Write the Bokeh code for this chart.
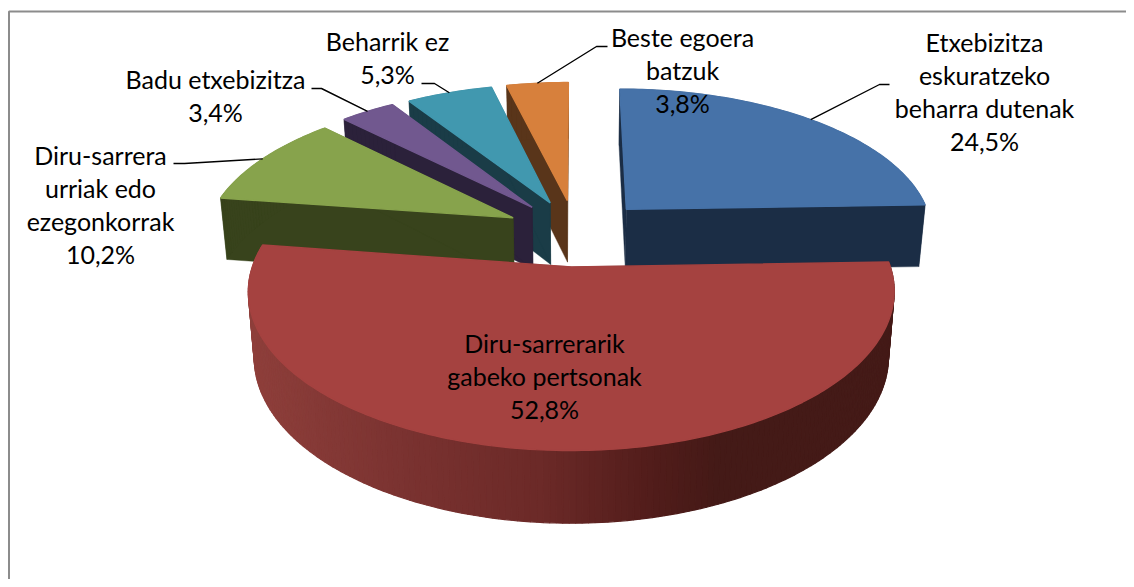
import math
import numpy as np
from bokeh.plotting import figure
from bokeh.models import Range1d, ColumnDataSource
from bokeh.core.properties import value
from bokeh.embed import file_html
from bokeh.resources import INLINE

# ---- data ----
names = ["Etxebizitza|eskuratzeko|beharra dutenak", "Diru-sarrerarik|gabeko pertsonak",
         "Diru-sarrera|urriak edo|ezegonkorrak", "Badu etxebizitza", "Beharrik ez", "Beste egoera|batzuk"]
values = [24.5, 52.8, 10.2, 3.4, 5.3, 3.8]
top_colors = ["#4672a8", "#a54240", "#87a34c", "#71588f", "#4198af", "#d7803c"]
side_colors = ["#1b2d45", "#451a18", "#38431c", "#2b213a", "#1a3c47", "#59351a"]
label_x = [984, 544, 100, 215, 387, 682]
label_y = [41.5, 342, 154, 78, 40, 36]
leaders = [[(879, 84), (889, 84)], None, [(184, 163), (173, 163)], [(321, 88), (311, 88)],
           [(434, 83), (421, 83)], [(596, 46), (607, 46)]]
slice_nudge = [0.009, 0, 0, 0, 0.006, 0]
grad_x = [255, 400, 540, 650, 720, 890]
grad_rgb = [(0x8e, 0x3f, 0x3b), (0x7b, 0x33, 0x31), (0x6c, 0x2a, 0x28), (0x52, 0x1d, 0x1b), (0x44, 0x1a, 0x17), (0x44, 0x1a, 0x17)]

# ---- projection ----
CX, CY, A, B, P, EXPL, H, SHRINK = 575, 232, 308, 144.6, 0.15, 0.23, 63, 0.982
FONT, FS, LINE = "Lato", "25px", 33


def top(X, Y):
    d = 1 + P * Y
    return CX + A * X / d, CY - B * Y / d


def bottom(X, Y):
    sx, sy = top(X, Y)
    return CX + (sx - CX) * SHRINK, sy + H / (1 + P * Y) ** 0.7


def shape(a0, a1, nudge):
    mid = math.radians((a0 + a1) / 2)
    ox, oy = EXPL * math.sin(mid) + nudge, EXPL * math.cos(mid)
    angs = np.radians(np.linspace(a0, a1, max(3, int(a1 - a0) + 1)))
    pts = [(ox, oy)] + [(ox + math.sin(t), oy + math.cos(t)) for t in angs]
    return pts, (ox + math.sin(mid), oy + math.cos(mid))


p = figure(width=1126, height=579, x_range=Range1d(0, 1126), y_range=Range1d(579, 0),
           output_backend="svg", toolbar_location=None, min_border=0,
           outline_line_color=None, background_fill_color="white")
p.axis.visible = False
p.grid.visible = False
p.min_border_left = p.min_border_right = p.min_border_top = p.min_border_bottom = 0

# frame (left and top only reach the picture)
p.line([8.5, 8.5, 1134], [587, 11, 11], line_color="#8c8c8c", line_width=2)

# slices
starts = np.cumsum([0] + values[:-1]) * 3.6
ends = np.cumsum(values) * 3.6
anchors = []
geo = [shape(a, b, nudge) for a, b, nudge in zip(starts, ends, slice_nudge)]
order = [5, 4, 3, 2, 0, 1]
for i in order:
    pts, anchor = geo[i]
    anchors.append((i, top(*anchor)))
    T = [top(*q) for q in pts]
    Bt = [bottom(*q) for q in pts]
    n = len(pts)
    for j in range(n):
        k = (j + 1) % n
        xs = [T[j][0], T[k][0], Bt[k][0], Bt[j][0]]
        ys = [T[j][1], T[k][1], Bt[k][1], Bt[j][1]]
        col = side_colors[i]
        lw = 0.4
        if i == 1 and j != 0 and k != 0:
            xm = sum(xs) / 4
            rgb = [int(np.interp(xm, grad_x, [c[ch] for c in grad_rgb])) for ch in range(3)]
            col = "#%02x%02x%02x" % tuple(rgb)
            lw = 1.2
        p.patch(xs, ys, fill_color=col, line_color=col, line_width=lw)
    p.patch([q[0] for q in T], [q[1] for q in T], fill_color=top_colors[i], line_color=top_colors[i], line_width=1.4)

# leaders
for i, (sx, sy) in anchors:
    if leaders[i]:
        p.line([sx] + [q[0] for q in leaders[i]], [sy] + [q[1] for q in leaders[i]],
               line_color="black", line_width=1.4)

# labels
tx, ty, tt = [], [], []
for name, v, x0, y0 in zip(names, values, label_x, label_y):
    lines = name.split("|") + [f"{v:.1f}".replace(".", ",") + "%"]
    for m, s in enumerate(lines):
        tx.append(x0)
        ty.append(y0 + m * LINE)
        tt.append(s)
src = ColumnDataSource(dict(x=tx, y=ty, text=tt))
p.text("x", "y", text="text", source=src, text_font=value(FONT), text_font_size=value(FS),
       text_align="center", text_baseline="middle", text_color="black")

open("out.html", "w").write(file_html(p, INLINE))
